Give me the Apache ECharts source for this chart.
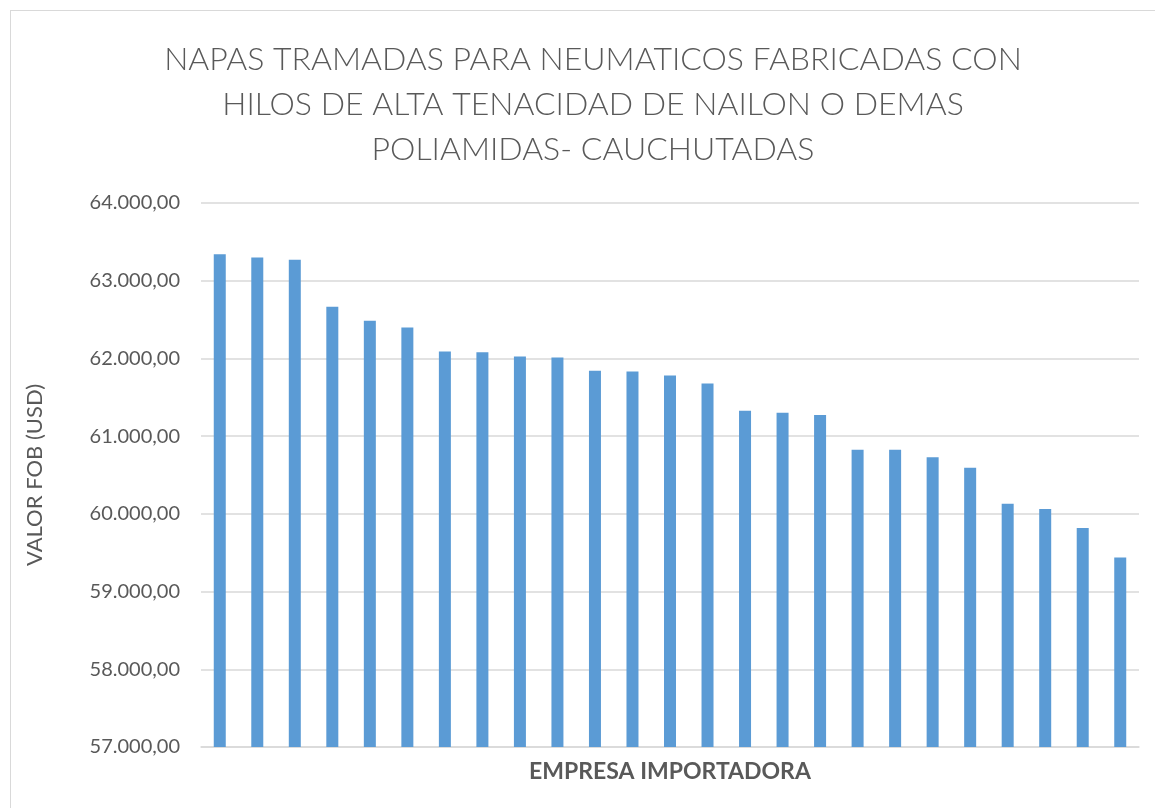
<!DOCTYPE html>
<html>
<head>
<meta charset="utf-8">
<script src="https://cdn.jsdelivr.net/npm/echarts@6/dist/echarts.min.js"></script>
<style>
  html, body { margin: 0; padding: 0; background: #fff; }
  .chart-box {
    position: absolute;
    left: 10px; top: 10px;
    width: 1160px; height: 820px;
    border: 1px solid #d9d9d9;
    box-sizing: border-box;
  }
  #chart { width: 1155px; height: 808px; }
</style>
</head>
<body>
<div class="chart-box"></div>
<div id="chart"></div>
<script>
// empresas importadoras (sin nombre en el eje)
const categories = [
  'E1', 'E2', 'E3', 'E4', 'E5', 'E6', 'E7', 'E8', 'E9', 'E10',
  'E11', 'E12', 'E13', 'E14', 'E15', 'E16', 'E17', 'E18', 'E19', 'E20',
  'E21', 'E22', 'E23', 'E24', 'E25'
]
// valor FOB en USD
const fobValues = [
  63339, 63300, 63270, 62665, 62485, 62399, 62090, 62081, 62026, 62013,
  61842, 61833, 61781, 61678, 61327, 61301, 61271, 60825, 60825, 60730,
  60594, 60130, 60061, 59817, 59439
]
const yTicks = [57000, 58000, 59000, 60000, 61000, 62000, 63000, 64000]

const titleText = 'NAPAS TRAMADAS PARA NEUMATICOS FABRICADAS CON\nHILOS DE ALTA TENACIDAD DE NAILON O DEMAS\nPOLIAMIDAS- CAUCHUTADAS'

const fmt = (v) => {
  const s = Math.round(v).toString().replace(/\B(?=(\d{3})+(?!\d))/g, '.')
  return s + ',00'
}

const myChart = echarts.init(document.getElementById('chart'))

const option = {
  animation: false,
  title: {
    text: titleText,
    left: 588,
    top: 32,
    textAlign: 'center',
    textStyle: {
      fontFamily: 'Lato',
      fontWeight: 300,
      fontSize: 32,
      lineHeight: 45,
      color: '#595959'
    }
  },
  grid: {
    left: 201,
    right: 16,
    top: 203,
    bottom: 61
  },
  xAxis: {
    type: 'category',
    data: categories,
    name: 'EMPRESA IMPORTADORA',
    nameLocation: 'middle',
    nameGap: 13,
    nameTextStyle: {
      fontFamily: 'Lato',
      fontWeight: 'bold',
      fontSize: 23,
      color: '#595959'
    },
    axisLine: { lineStyle: { color: '#d9d9d9', width: 1.5 } },
    axisTick: { show: false },
    axisLabel: { show: false }
  },
  yAxis: {
    type: 'value',
    min: yTicks[0],
    max: yTicks[yTicks.length - 1],
    interval: 1000,
    name: 'VALOR FOB (USD)',
    nameLocation: 'middle',
    nameGap: 155,
    nameTextStyle: {
      fontFamily: 'Lato',
      fontSize: 22,
      color: '#595959'
    },
    axisLine: { show: false },
    axisTick: { show: false },
    axisLabel: {
      formatter: fmt,
      fontFamily: 'Lato',
      fontSize: 20,
      color: '#595959',
      margin: 21
    },
    splitLine: { lineStyle: { color: '#d9d9d9', width: 1.5 } }
  },
  series: [
    {
      type: 'bar',
      data: fobValues,
      barWidth: 12,
      itemStyle: { color: '#5b9bd5' }
    }
  ]
}

myChart.setOption(option)
</script>
</body>
</html>
